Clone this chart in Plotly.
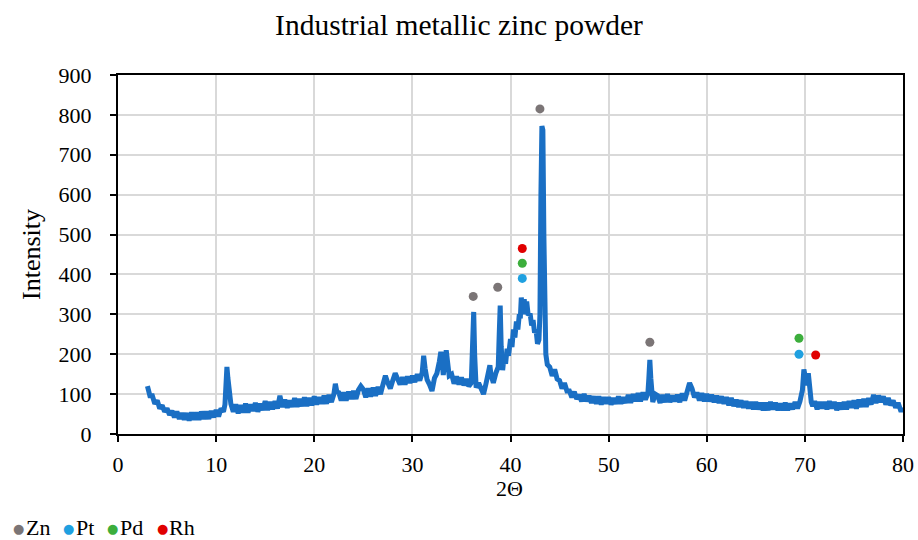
import plotly.graph_objects as go

two_theta = [
    3.0, 3.25, 3.5, 3.75,
    4.0, 4.25, 4.5, 4.75,
    5.0, 5.25, 5.5, 5.75,
    6.0, 6.25, 6.5, 6.75,
    7.0, 7.25, 7.5, 7.75,
    8.0, 8.25, 8.5, 8.75,
    9.0, 9.25, 9.5, 9.75,
    10.0, 10.25, 10.5, 10.75,
    10.9, 11.0, 11.1, 11.2, 11.35, 11.5, 11.75,
    12.0, 12.25, 12.5, 12.75,
    13.0, 13.25, 13.5, 13.75,
    14.0, 14.25, 14.5, 14.75,
    15.0, 15.25, 15.5, 15.75,
    16.0, 16.25, 16.5, 16.75,
    17.0, 17.25, 17.5, 17.75,
    18.0, 18.25, 18.5, 18.75,
    19.0, 19.25, 19.5, 19.75,
    20.0, 20.25, 20.5, 20.75,
    21.0, 21.25, 21.5, 21.75,
    22.0, 22.15, 22.3, 22.5, 22.75,
    23.0, 23.25, 23.5, 23.75,
    24.0, 24.25, 24.5, 24.75,
    25.0, 25.25, 25.5, 25.75,
    26.0, 26.25, 26.5, 26.75,
    27.0, 27.25, 27.5, 27.75,
    28.0, 28.25, 28.5, 28.75,
    29.0, 29.25, 29.5, 29.75,
    30.0, 30.25, 30.5, 30.75,
    31.0, 31.15, 31.3, 31.5, 31.75,
    32.0, 32.25, 32.5, 32.75,
    32.9, 33.0, 33.15, 33.3, 33.45, 33.6, 33.75,
    34.0, 34.25, 34.5, 34.75,
    35.0, 35.25, 35.5, 35.75,
    36.0, 36.15, 36.25, 36.35, 36.5, 36.75,
    37.0, 37.25, 37.5, 37.75, 37.9,
    38.0, 38.25, 38.5, 38.75, 38.85, 38.95, 39.05,
    39.2, 39.35, 39.5, 39.65, 39.8,
    40.0, 40.15, 40.3, 40.45, 40.6, 40.75, 40.9,
    41.0, 41.1, 41.25, 41.4, 41.5, 41.65, 41.8,
    42.0, 42.15, 42.3, 42.45, 42.6, 42.75, 42.9,
    43.0, 43.1, 43.2, 43.3, 43.4, 43.5, 43.6, 43.75,
    44.0, 44.25, 44.5, 44.75,
    45.0, 45.25, 45.5, 45.75,
    46.0, 46.25, 46.5, 46.75,
    47.0, 47.25, 47.5, 47.75,
    48.0, 48.25, 48.5, 48.75,
    49.0, 49.25, 49.5, 49.75,
    50.0, 50.25, 50.5, 50.75,
    51.0, 51.25, 51.5, 51.75,
    52.0, 52.25, 52.5, 52.75,
    53.0, 53.25, 53.5, 53.75,
    54.0, 54.1, 54.2, 54.3, 54.4, 54.5, 54.75,
    55.0, 55.25, 55.5, 55.75,
    56.0, 56.25, 56.5, 56.75,
    57.0, 57.25, 57.5, 57.75,
    58.0, 58.25, 58.5, 58.75,
    59.0, 59.25, 59.5, 59.75,
    60.0, 60.25, 60.5, 60.75,
    61.0, 61.25, 61.5, 61.75,
    62.0, 62.25, 62.5, 62.75,
    63.0, 63.25, 63.5, 63.75,
    64.0, 64.25, 64.5, 64.75,
    65.0, 65.25, 65.5, 65.75,
    66.0, 66.25, 66.5, 66.75,
    67.0, 67.25, 67.5, 67.75,
    68.0, 68.25, 68.5, 68.75,
    69.0, 69.25, 69.5, 69.75, 69.9, 70.05, 70.2, 70.35, 70.5, 70.65, 70.8,
    71.0, 71.25, 71.5, 71.75,
    72.0, 72.25, 72.5, 72.75,
    73.0, 73.25, 73.5, 73.75,
    74.0, 74.25, 74.5, 74.75,
    75.0, 75.25, 75.5, 75.75,
    76.0, 76.25, 76.5, 76.75,
    77.0, 77.25, 77.5, 77.75,
    78.0, 78.25, 78.5, 78.75,
    79.0, 79.25, 79.5, 79.75,
    80.0,
]

intensity = [
    120, 96, 96, 76,
    84, 64, 72, 56,
    64, 48, 58, 42,
    56, 38, 52, 36,
    52, 34, 54, 36,
    54, 36, 56, 38,
    56, 38, 58, 42,
    60, 44, 64, 56,
    74, 120, 168, 140, 90, 76, 56,
    74, 52, 72, 54,
    76, 54, 74, 58,
    78, 56, 76, 60,
    82, 60, 80, 62,
    82, 64, 96, 68,
    86, 66, 84, 68,
    90, 68, 88, 70,
    92, 70, 90, 72,
    94, 74, 92, 76,
    96, 76, 98, 80,
    100, 126, 106, 104, 84,
    104, 84, 106, 88,
    108, 88, 110, 120,
    112, 92, 114, 94,
    116, 96, 118, 100,
    124, 146, 128, 114,
    134, 152, 138, 124,
    142, 124, 144, 128,
    146, 130, 150, 134,
    154, 196, 164, 136, 124,
    108, 140, 152, 182,
    206, 188, 148, 182, 210, 178, 146,
    150, 126, 144, 124,
    142, 122, 138, 120,
    128, 200, 306, 198, 116, 128,
    112, 100, 126, 160, 172,
    150, 128, 152, 168, 250, 322, 220,
    160, 196, 176, 214, 196,
    238, 218, 262, 242, 282, 262, 300,
    290, 342, 302, 338, 300, 332, 298,
    302, 272, 286, 254, 262, 226, 236,
    300, 600, 772, 762, 500, 280, 200, 174,
    168, 146, 162, 138,
    134, 114, 128, 108,
    108, 92, 106, 88,
    98, 82, 100, 82,
    96, 78, 94, 76,
    94, 74, 92, 76,
    92, 74, 90, 76,
    94, 76, 92, 78,
    98, 78, 100, 82,
    102, 82, 104, 86,
    102, 140, 186, 140, 92, 80, 100,
    96, 78, 98, 80,
    100, 80, 96, 82,
    98, 80, 102, 84,
    104, 128, 114, 92,
    104, 84, 102, 82,
    100, 82, 98, 80,
    96, 78, 94, 76,
    92, 72, 90, 70,
    86, 68, 84, 66,
    82, 64, 80, 62,
    80, 62, 78, 60,
    78, 60, 80, 62,
    78, 60, 76, 60,
    78, 60, 76, 62,
    80, 64, 82, 110, 162, 130, 122, 152, 110, 80, 70,
    82, 62, 80, 64,
    80, 62, 82, 64,
    80, 60, 78, 62,
    80, 62, 82, 66,
    84, 64, 86, 68,
    88, 68, 90, 74,
    98, 78, 96, 80,
    94, 74, 90, 72,
    84, 66, 78, 60,
    60,
]

zn_x = [36.2, 38.7, 43.0, 54.2]
zn_y = [345, 368, 815, 230]
pt_x = [41.2, 69.4]
pt_y = [390, 200]
pd_x = [41.2, 69.4]
pd_y = [428, 240]
rh_x = [41.2, 71.1]
rh_y = [465, 198]

x_ticks = [0, 10, 20, 30, 40, 50, 60, 70, 80]
y_ticks = [0, 100, 200, 300, 400, 500, 600, 700, 800, 900]

FONT = "Liberation Serif"
series = [
    ("Zn", zn_x, zn_y, "#7b7576"),
    ("Pt", pt_x, pt_y, "#1fa0e0"),
    ("Pd", pd_x, pd_y, "#3cae3c"),
    ("Rh", rh_x, rh_y, "#e00000"),
]

# plot-area geometry (pixels) used to place the legend text below the axes
L, R, T, B = 118, 15, 75, 106
W, H = 918, 540
PW, PH = W - L - R, H - T - B


def px_x(p):
    return (p - L) / PW


def px_y(p):
    return (H - B - p) / PH


fig = go.Figure()
fig.add_trace(go.Scatter(
    x=two_theta, y=intensity, mode="lines",
    line=dict(color="#1a6fc4", width=5),
    showlegend=False, hoverinfo="skip",
))
for name, xs, ys, col in series:
    fig.add_trace(go.Scatter(
        x=xs, y=ys, mode="markers", name=name, showlegend=False,
        marker=dict(color=col, size=9),
    ))

# legend row: bullet + label, positioned like the reference
legend_bullet_px = [18, 68, 112, 162]
legend_label_px = [24, 74, 118, 167]
for (name, _, _, col), bx, lx in zip(series, legend_bullet_px, legend_label_px):
    fig.add_annotation(
        text="●", xref="paper", yref="paper", x=px_x(bx), y=px_y(528),
        xanchor="center", yanchor="middle", showarrow=False,
        font=dict(family="DejaVu Sans", size=13, color=col),
    )
    fig.add_annotation(
        text=name, xref="paper", yref="paper", x=px_x(lx), y=px_y(527),
        xanchor="left", yanchor="middle", showarrow=False,
        font=dict(family=FONT, size=22, color="black"),
    )

fig.add_annotation(
    text="2Θ", xref="paper", yref="paper", x=px_x(509), y=px_y(488),
    xanchor="center", yanchor="middle", showarrow=False,
    font=dict(family=FONT, size=22, color="black"),
)

fig.update_layout(
    width=W, height=H,
    margin=dict(l=L, r=R, t=T, b=B, autoexpand=False),
    paper_bgcolor="white", plot_bgcolor="white",
    font=dict(family=FONT, size=22, color="black"),
    title=dict(text="Industrial metallic zinc powder", x=0.5, xanchor="center",
               y=0.955, yanchor="middle", font=dict(size=29.5)),
    showlegend=False,
)
fig.update_xaxes(
    range=[0, 80], tickvals=x_ticks, showgrid=True, gridcolor="#d9d9d9", gridwidth=1.5,
    showline=True, linecolor="black", linewidth=2, mirror=True,
    ticks="outside", ticklen=6, tickwidth=2, tickcolor="black",
    ticklabelstandoff=4, zeroline=False,
)
fig.update_yaxes(
    range=[0, 900], tickvals=y_ticks, showgrid=True, gridcolor="#d9d9d9", gridwidth=1.5,
    showline=True, linecolor="black", linewidth=2, mirror=True,
    ticks="outside", ticklen=6, tickwidth=2, tickcolor="black",
    ticklabelstandoff=14,
    title=dict(text="Intensity", standoff=10), zeroline=False,
)

fig.write_html("out.html")
